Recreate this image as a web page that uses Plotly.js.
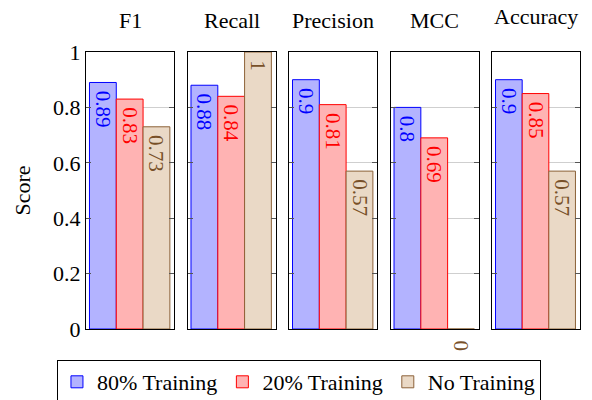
<!DOCTYPE html>
<html>
<head>
<meta charset="utf-8">
<script src="https://cdn.plot.ly/plotly-3.0.1.min.js"></script>
<style>html,body{margin:0;padding:0;background:#fff;}#chart{width:592px;height:400px;}</style>
</head>
<body>
<div id="chart"></div>
<script>
// Data
const metrics = ["F1", "Recall", "Precision", "MCC", "Accuracy"];
const seriesNames = ["80% Training", "20% Training", "No Training"];
const training80 = [0.89, 0.88, 0.9, 0.8, 0.9];
const training20 = [0.83, 0.84, 0.81, 0.69, 0.85];
const noTraining = [0.73, 1, 0.57, 0, 0.57];
const yTicks = [0, 0.2, 0.4, 0.6, 0.8, 1];
const yTickLabels = ["0", "0.2", "0.4", "0.6", "0.8", "1"];

const seriesValues = [training80, training20, noTraining];
const fills = ["rgb(179,179,255)", "rgb(255,179,179)", "rgb(234,217,198)"];
const borders = ["rgb(0,0,255)", "rgb(255,0,0)", "rgb(140,98,57)"];
const textColors = ["rgb(0,0,255)", "rgb(255,0,0)", "rgb(120,80,40)"];
const FONT = "Liberation Serif";

const traces = [];
const annotations = [];
const layout = {
  width: 592, height: 400,
  margin: {l: 86, r: 12, t: 52, b: 71},
  paper_bgcolor: "#fff", plot_bgcolor: "#fff",
  barmode: "overlay",
  font: {family: FONT, size: 20, color: "#000"},
  showlegend: true,
  legend: {
    orientation: "h", x: 0.505, xref: "container", xanchor: "center",
    y: 0.1, yref: "container", yanchor: "top",
    bordercolor: "#000", borderwidth: 1, font: {family: FONT, size: 22, color: "#000"},
    tracegroupgap: 0
  },
  annotations: annotations
};

const step = 0.2055, w = 0.179;
metrics.forEach((m, i) => {
  const xa = i === 0 ? "x" : "x" + (i + 1);
  const ya = i === 0 ? "y" : "y" + (i + 1);
  const xKey = i === 0 ? "xaxis" : "xaxis" + (i + 1);
  const yKey = i === 0 ? "yaxis" : "yaxis" + (i + 1);
  layout[xKey] = {
    domain: [i * step, i * step + w], range: [-0.63, 2.67], anchor: ya,
    showline: true, mirror: true, linecolor: "#000", linewidth: 1,
    showgrid: false, zeroline: false, showticklabels: false, ticks: "", fixedrange: true
  };
  layout[yKey] = {
    range: [0, 1], anchor: xa, tickvals: yTicks, ticktext: yTickLabels,
    showticklabels: i === 0, ticks: "inside", ticklen: 5, tickcolor: "#555", tickwidth: 1,
    showline: true, mirror: "ticks", linecolor: "#000", linewidth: 1,
    showgrid: true, gridcolor: "#cfcfcf", gridwidth: 1, zeroline: false,
    tickfont: {family: FONT, size: 22, color: "#000"}, fixedrange: true
  };
  if (i === 0) {
    layout[yKey].title = {text: "Score", font: {family: FONT, size: 22, color: "#000"}, standoff: 16};
  }
  annotations.push({
    text: m, xref: xa + " domain", yref: "paper", x: 0.5, y: 1,
    xanchor: "center", yanchor: "middle", yshift: m === "Accuracy" ? 36 : 32,
    showarrow: false, font: {family: FONT, size: 22, color: "#000"}
  });
  seriesValues.forEach((vals, k) => {
    const v = vals[i];
    traces.push({
      type: "bar", x: [k], y: [v], width: 1, xaxis: xa, yaxis: ya,
      name: seriesNames[k], legendgroup: seriesNames[k], showlegend: i === 0,
      marker: {color: fills[k], line: {color: borders[k], width: 1}},
      texttemplate: "\u00a0%{y}", textposition: v > 0 ? "inside" : "none",
      insidetextanchor: "end", textangle: 90, constraintext: "none",
      insidetextfont: {family: FONT, size: 21, color: textColors[k]},
      cliponaxis: false, hoverinfo: "skip"
    });
    if (v === 0) {
      annotations.push({
        text: String(v), xref: xa, yref: ya, x: k, y: v, xanchor: "center", yanchor: "top",
        yshift: -9, textangle: 90, showarrow: false,
        font: {family: FONT, size: 21, color: textColors[k]}
      });
    }
  });
});

Plotly.newPlot("chart", traces, layout, {staticPlot: true, displayModeBar: false});
</script>
</body>
</html>
